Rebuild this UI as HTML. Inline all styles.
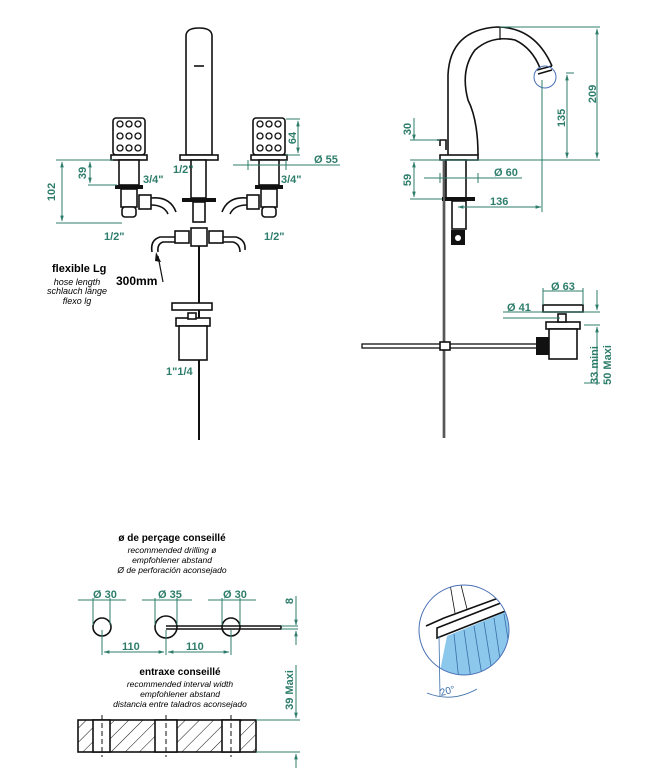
<!DOCTYPE html>
<html><head><meta charset="utf-8"><style>
html,body{margin:0;padding:0;background:#fff}
svg{display:block}
text{font-family:"Liberation Sans",sans-serif}
.t{fill:#2e7d6b;font-weight:bold;font-size:11px}
.d{stroke:#2e7d6b;stroke-width:1;fill:none}
.k{stroke:#111;stroke-width:1.6;fill:#fff}
.kn{stroke:#111;stroke-width:1.6;fill:none}
</style></head><body>
<svg width="658" height="781" viewBox="0 0 658 781" xmlns="http://www.w3.org/2000/svg">
<defs>
<pattern id="h" width="10" height="10" patternUnits="userSpaceOnUse" patternTransform="rotate(45)"><line x1="0" y1="0" x2="0" y2="10" stroke="#111" stroke-width="1"/></pattern>
<marker id="a" viewBox="0 0 10 10" refX="9" refY="5" markerWidth="6" markerHeight="6" orient="auto-start-reverse"><path d="M0,2 L10,5 L0,8z" fill="#2e7d6b"/></marker>
</defs>

<!-- LEFT VIEW -->
<path class="k" d="M186,155 L186,36 Q186,28 199,28 Q212,28 212,36 L212,155 Z"/>
<path class="kn" d="M194,66 L204,66"/>
<rect class="k" x="180" y="155" width="38" height="5"/>
<rect class="k" x="191" y="160" width="15" height="38"/>
<rect x="182" y="198" width="34" height="4" fill="#111"/>
<rect class="k" x="193" y="202" width="12" height="20"/>
<rect class="k" x="191" y="228" width="16" height="18"/>
<rect class="k" x="175" y="231" width="14" height="12"/>
<rect class="k" x="209" y="231" width="14" height="12"/>
<path class="kn" d="M175,237 L160,237 Q150,240 152,252 M175,242 L163,242 Q157,244 158,252"/>
<path class="kn" d="M223,237 L236,237 Q246,240 245,250 M223,242 L233,242 Q240,244 240,252"/>
<line x1="199" y1="246" x2="199" y2="440" stroke="#111" stroke-width="2"/>
<g id="hd">
<rect class="k" x="113" y="118" width="32" height="37" rx="3"/>
<g fill="none" stroke="#111" stroke-width="1.3">
<circle cx="120" cy="124" r="3"/><circle cx="129" cy="124" r="3"/><circle cx="138" cy="124" r="3"/>
<circle cx="120" cy="136" r="3"/><circle cx="129" cy="136" r="3"/><circle cx="138" cy="136" r="3"/>
<circle cx="120" cy="148" r="3"/><circle cx="129" cy="148" r="3"/><circle cx="138" cy="148" r="3"/>
</g>
<rect class="k" x="111" y="155" width="36" height="5"/>
<rect class="k" x="119" y="160" width="20" height="25"/>
<rect x="115" y="185" width="28" height="4" fill="#111"/>
<rect class="k" x="121" y="189" width="16" height="18"/>
<rect class="k" x="122" y="207" width="14" height="10" rx="3"/>
</g>
<use href="#hd" x="140"/>
<rect class="k" x="139" y="195" width="12" height="14"/>
<path class="kn" d="M151,198 Q170,196 176,212 M151,205 Q164,205 168,214"/>
<rect class="k" x="247" y="195" width="12" height="14"/>
<path class="kn" d="M247,198 Q228,196 222,212 M247,205 Q234,205 230,214"/>
<rect class="k" x="172" y="303" width="40" height="7"/>
<rect class="k" x="176" y="318" width="34" height="8"/>
<rect class="k" x="179" y="326" width="28" height="34"/>
<rect class="k" x="188" y="313" width="8" height="6"/>
<path d="M163,282 L158,256" stroke="#111" stroke-width="1.2"/>
<path d="M156,252 L161,262 L155,261z" fill="#111"/>
<path class="d" d="M56,160 L112,160 M56,223 L122,223 M88,160 L113,160 M88,185 L117,185"/>
<line class="d" x1="62" y1="162" x2="62" y2="221" marker-start="url(#a)" marker-end="url(#a)"/>
<line class="d" x1="90" y1="162" x2="90" y2="183" marker-start="url(#a)" marker-end="url(#a)"/>
<text class="t" transform="translate(55,192) rotate(-90)" text-anchor="middle">102</text>
<text class="t" transform="translate(86,173) rotate(-90)" text-anchor="middle">39</text>
<text class="t" x="143" y="183">3/4"</text>
<text class="t" x="104" y="240">1/2"</text>
<text class="t" x="173" y="173">1/2"</text>
<text class="t" x="281" y="183">3/4"</text>
<text class="t" x="264" y="240">1/2"</text>
<text class="t" x="166" y="375">1"1/4</text>
<path class="d" d="M286,119 L300,119 M286,155 L300,155"/>
<line class="d" x1="298" y1="121" x2="298" y2="153" marker-start="url(#a)" marker-end="url(#a)"/>
<text class="t" transform="translate(296,138) rotate(-90)" text-anchor="middle">64</text>
<path class="d" d="M233,165 L340,165 M248,160 L248,170 M286,160 L286,170"/>
<text class="t" x="314" y="163">Ø  55</text>
<text x="52" y="272" font-size="11" font-weight="bold">flexible Lg</text>
<text x="77" y="285" font-size="9" font-style="italic" text-anchor="middle">hose length</text>
<text x="77" y="294" font-size="9" font-style="italic" text-anchor="middle">schlauch länge</text>
<text x="77" y="304" font-size="9" font-style="italic" text-anchor="middle">flexo lg</text>
<text x="116" y="285" font-size="12" font-weight="bold">300mm</text>

<!-- RIGHT VIEW -->
<path class="kn" d="M448,155 L448,75 Q450,30 497,27 Q535,27 552,66"/>
<path class="kn" d="M478,155 Q478,120 468,100 Q460,70 475,50 Q492,35 515,40 Q532,48 540,68"/>
<line x1="500" y1="27" x2="500" y2="40" stroke="#111" stroke-width="1.2"/>
<path class="kn" d="M537,70 L552,66 M538,74 L552,70"/>
<circle cx="545" cy="77" r="11" fill="none" stroke="#4a6fb5" stroke-width="1"/>
<path class="kn" d="M437,140 L446,140 L446,150 M440,140 L440,146"/>
<rect class="k" x="440" y="155" width="38" height="5"/>
<rect class="k" x="446" y="160" width="20" height="38"/>
<rect x="442" y="197" width="33" height="4" fill="#111"/>
<rect class="k" x="452" y="201" width="14" height="28"/>
<rect x="451" y="230" width="14" height="15" fill="#111"/>
<circle cx="458" cy="238" r="3" fill="#fff"/>
<line x1="444" y1="160" x2="444" y2="438" stroke="#111" stroke-width="2.5"/>
<line x1="444" y1="160" x2="444" y2="438" stroke="#fff" stroke-width="0.6"/>
<rect x="362" y="344" width="178" height="4" fill="#fff" stroke="#111" stroke-width="1.3"/>
<rect class="k" x="440" y="342" width="10" height="8"/>
<rect class="k" x="543" y="305" width="40" height="7"/>
<rect class="k" x="546" y="322" width="34" height="7"/>
<rect class="k" x="549" y="329" width="28" height="30"/>
<rect class="k" x="558" y="314" width="8" height="8"/>
<rect x="536" y="337" width="13" height="18" fill="#111"/>
<path class="d" d="M500,27 L600,27 M566,73 L574,73 M410,160 L600,160 M410,140 L440,140 M410,199 L442,199 M542,80 L542,212"/>
<line class="d" x1="597" y1="29" x2="597" y2="158" marker-start="url(#a)" marker-end="url(#a)"/>
<line class="d" x1="567" y1="75" x2="567" y2="158" marker-start="url(#a)" marker-end="url(#a)"/>
<line class="d" x1="414" y1="118" x2="414" y2="140" marker-end="url(#a)"/>
<line class="d" x1="414" y1="162" x2="414" y2="197" marker-start="url(#a)" marker-end="url(#a)"/>
<text class="t" transform="translate(596,94) rotate(-90)" text-anchor="middle">209</text>
<text class="t" transform="translate(565,118) rotate(-90)" text-anchor="middle">135</text>
<text class="t" transform="translate(411,129) rotate(-90)" text-anchor="middle">30</text>
<text class="t" transform="translate(411,180) rotate(-90)" text-anchor="middle">59</text>
<path class="d" d="M424,178 L522,178 M440,173 L440,183 M478,173 L478,183"/>
<text class="t" x="494" y="176">Ø  60</text>
<line class="d" x1="458" y1="207" x2="541" y2="207" marker-start="url(#a)" marker-end="url(#a)"/>
<text class="t" x="490" y="205">136</text>
<path class="d" d="M543,291 L583,291 M543,288 L543,305 M583,288 L583,305 M503,312 L600,312 M503,318 L560,318 M584,325 L600,325 M584,383 L600,383"/>
<text class="t" x="551" y="290">Ø 63</text>
<text class="t" x="507" y="311">Ø  41</text>
<line class="d" x1="597" y1="290" x2="597" y2="310" marker-end="url(#a)"/>
<line class="d" x1="597" y1="345" x2="597" y2="327" marker-end="url(#a)"/>
<line class="d" x1="597" y1="345" x2="597" y2="385"/>
<text class="t" transform="translate(598,365) rotate(-90)" text-anchor="middle">33 mini</text>
<text class="t" transform="translate(611,365) rotate(-90)" text-anchor="middle">50 Maxi</text>

<!-- BOTTOM LEFT -->
<text x="172" y="541" font-size="10" font-weight="bold" text-anchor="middle">ø de perçage conseillé</text>
<text x="172" y="553" font-size="8.5" font-style="italic" text-anchor="middle">recommended drilling ø</text>
<text x="172" y="563" font-size="8.5" font-style="italic" text-anchor="middle">empfohlener abstand</text>
<text x="172" y="573" font-size="8.5" font-style="italic" text-anchor="middle">Ø de perforación aconsejado</text>
<circle cx="102" cy="627" r="9" class="kn"/>
<circle cx="166" cy="627" r="11" class="kn"/>
<circle cx="231" cy="627" r="9" class="kn"/>
<path class="kn" d="M166,626 L281,626 L281,629 L166,629" stroke-width="1.2"/>
<path class="d" d="M78,600 L126,600 M142,600 L192,600 M208,600 L256,600 M93,598 L93,625 M110,598 L110,625 M155,598 L155,625 M177,598 L177,625 M222,598 L222,625 M240,598 L240,625"/>
<text class="t" x="93" y="598">Ø 30</text>
<text class="t" x="158" y="598">Ø 35</text>
<text class="t" x="223" y="598">Ø 30</text>
<path class="d" d="M102,630 L102,655 M166,630 L166,655 M231,630 L231,655 M281,626 L298,626 M281,629 L298,629"/>
<line class="d" x1="104" y1="652" x2="164" y2="652" marker-start="url(#a)" marker-end="url(#a)"/>
<line class="d" x1="168" y1="652" x2="229" y2="652" marker-start="url(#a)" marker-end="url(#a)"/>
<text class="t" x="122" y="650">110</text>
<text class="t" x="186" y="650">110</text>
<line class="d" x1="296" y1="596" x2="296" y2="625" marker-end="url(#a)"/>
<line class="d" x1="296" y1="645" x2="296" y2="631" marker-end="url(#a)"/>
<text class="t" transform="translate(293,601) rotate(-90)" text-anchor="middle" font-size="9">8</text>
<text x="180" y="675" font-size="10" font-weight="bold" text-anchor="middle">entraxe conseillé</text>
<text x="180" y="687" font-size="8.5" font-style="italic" text-anchor="middle">recommended interval width</text>
<text x="180" y="697" font-size="8.5" font-style="italic" text-anchor="middle">empfohlener abstand</text>
<text x="180" y="707" font-size="8.5" font-style="italic" text-anchor="middle">distancia entre taladros aconsejado</text>
<rect x="78" y="720" width="178" height="32" fill="url(#h)" stroke="#111" stroke-width="1.6"/>
<rect x="93" y="720" width="17" height="32" fill="#fff" stroke="#111" stroke-width="1.6"/>
<rect x="155" y="720" width="22" height="32" fill="#fff" stroke="#111" stroke-width="1.6"/>
<rect x="222" y="720" width="18" height="32" fill="#fff" stroke="#111" stroke-width="1.6"/>
<path d="M102,715 L102,757 M166,715 L166,757 M231,715 L231,757" stroke="#111" stroke-dasharray="5,3"/>
<path class="d" d="M256,720 L300,720 M256,752 L300,752"/>
<line class="d" x1="296" y1="665" x2="296" y2="718" marker-end="url(#a)"/>
<line class="d" x1="296" y1="768" x2="296" y2="754" marker-end="url(#a)"/>
<text class="t" transform="translate(293,690) rotate(-90)" text-anchor="middle">39 Maxi</text>

<!-- DETAIL -->
<g transform="translate(-23,-4)">
<clipPath id="c"><circle cx="487" cy="634" r="45"/></clipPath>
<g clip-path="url(#c)">
<path d="M470,640 L533,614 L540,690 L460,690 Z" fill="#8cc8ec"/>
<g stroke="#3a6ea8" stroke-width="0.8">
<line x1="477" y1="638" x2="482" y2="685"/><line x1="487" y1="634" x2="494" y2="683"/>
<line x1="497" y1="630" x2="505" y2="680"/><line x1="507" y1="626" x2="515" y2="676"/>
<line x1="517" y1="622" x2="524" y2="670"/><line x1="527" y1="618" x2="534" y2="662"/>
</g>
<path d="M460,632 L534,603 L536,612 L460,642Z" fill="#fff" stroke="#111" stroke-width="1.6"/>
<path d="M449,630 L467,622 L527,600 L534,586" fill="none" stroke="#111" stroke-width="1.6"/>
<path d="M473,588 L478,617 M483,585 L490,613" stroke="#111" stroke-width="0.8"/>
</g>
<circle cx="487" cy="634" r="45" fill="none" stroke="#4a6fb5" stroke-width="1"/>
<line x1="462" y1="640" x2="463" y2="700" stroke="#3a6ea8" stroke-width="0.8"/>
<path d="M450,697 Q475,707 500,693" fill="none" stroke="#3a6ea8" stroke-width="0.8"/>
<text x="464" y="700" font-size="10" fill="#3a6ea8" transform="rotate(-15 464 700)">20°</text>
</g>
</svg>
</body></html>
